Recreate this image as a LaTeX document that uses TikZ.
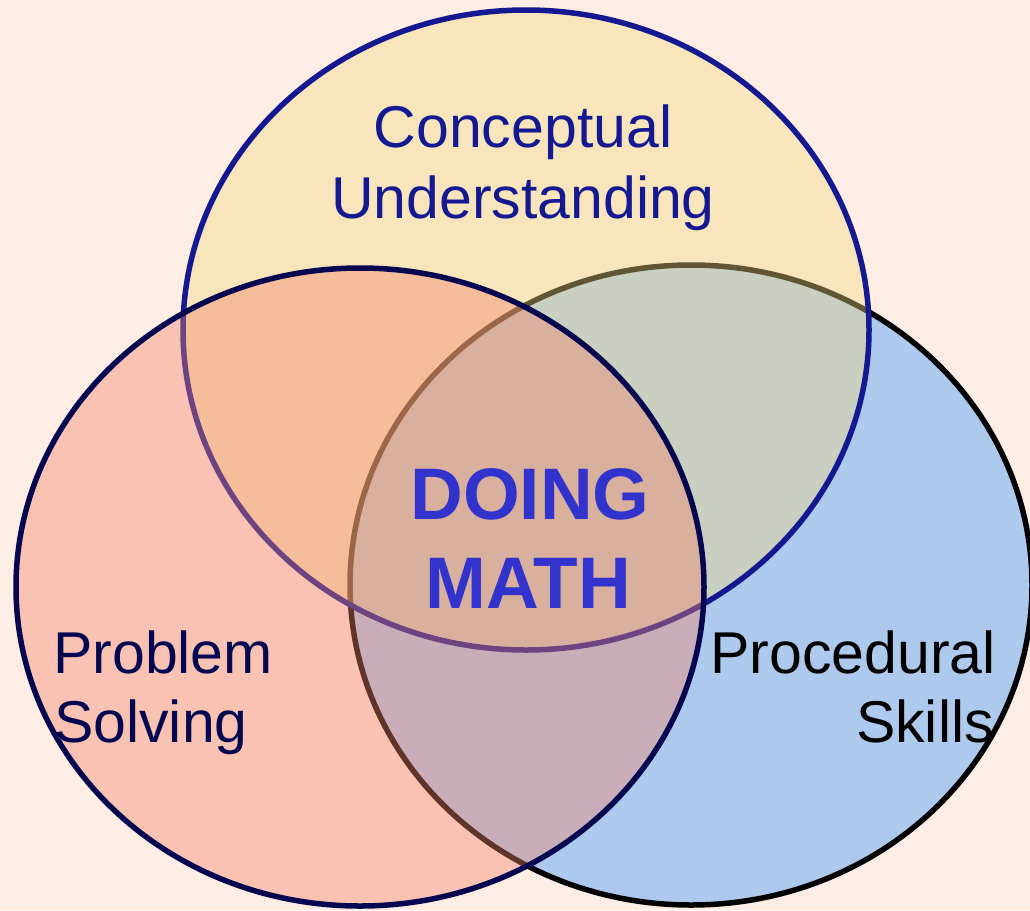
\documentclass[tikz,border=0pt]{standalone}
\usepackage{fontspec}
\setmainfont{Liberation Sans}
\definecolor{bgc}{RGB}{253,237,228}
\definecolor{bluefill}{RGB}{173,202,238}
\definecolor{yellowfill}{RGB}{243,217,128}
\definecolor{pinkfill}{RGB}{243,130,105}
\definecolor{topline}{RGB}{20,25,145}
\definecolor{leftline}{RGB}{5,8,80}
\definecolor{mathblue}{RGB}{50,50,205}
\begin{document}
\begin{tikzpicture}[x=1pt,y=-1pt,
  ring/.style={line width=5.5pt},
  lbl/.style={inner sep=0pt,font=\fontsize{59}{70}\selectfont},
  core/.style={inner sep=0pt,font=\fontsize{73}{88}\selectfont\bfseries,text=mathblue}]
\useasboundingbox (0,0) rectangle (1030,910);
\fill[bgc] (0,0) rectangle (1030,910);
% ellipses
\draw[ring,draw=black,fill=bluefill] (691,585) ellipse [x radius=341, y radius=320];
\draw[ring,draw=topline,fill=yellowfill,fill opacity=0.4] (526,330) ellipse [x radius=343, y radius=320];
\draw[ring,draw=leftline,fill=pinkfill,fill opacity=0.4] (360,587) ellipse [x radius=344, y radius=319];
% labels
\node[lbl,text=topline,anchor=base] (cu1) at (523,147) {Conceptual};
\node[lbl,text=topline,anchor=base] (cu2) at (523,218) {Understanding};
\node[core,anchor=base] (dm1) at (530,519) {DOING};
\node[core,anchor=base] (dm2) at (528,608) {MATH};
\node[lbl,text=leftline,anchor=base west] (ps1) at (53,673) {Problem};
\node[lbl,text=leftline,anchor=base west] (ps2) at (54,742) {Solving};
\node[lbl,text=black,anchor=base east] (pr1) at (996,673) {Procedural};
\node[lbl,text=black,anchor=base east] (pr2) at (994,742) {Skills};
\end{tikzpicture}
\end{document}
